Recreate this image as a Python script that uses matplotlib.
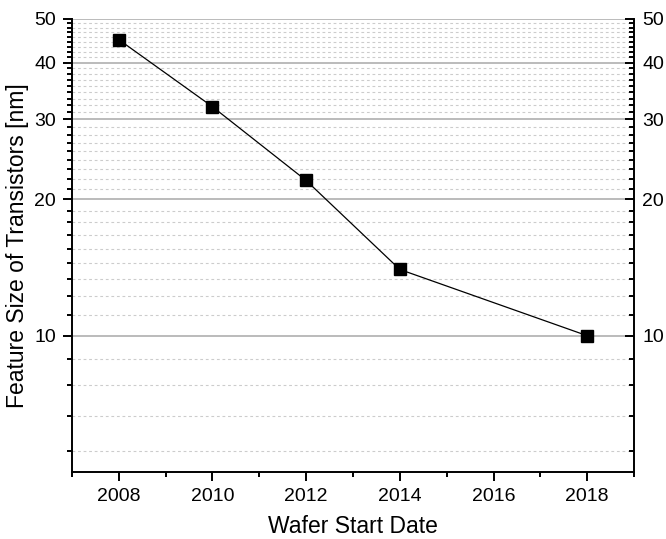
import matplotlib.pyplot as plt
import matplotlib.ticker as mticker
import numpy as np

# ── Data ─────────────────────────────────────────────────────────────────────
years = [2008, 2010, 2012, 2014, 2018]
feature_nm = [45, 32, 22, 14, 10]

x_ticks = [2008, 2010, 2012, 2014, 2016, 2018]
y_ticks = [10, 20, 30, 40, 50]

# ── Styling ──────────────────────────────────────────────────────────────────
plt.rcParams.update({
    "font.family": ["Liberation Sans", "DejaVu Sans"],
    "font.size": 14,
})

fig = plt.figure(figsize=(6.66, 5.39), dpi=100)
ax = fig.add_axes([0.108, 0.124, 0.844, 0.841])

ax.plot(years, feature_nm, color="black", lw=0.9, marker="s", ms=8.5,
        mfc="black", mec="black", zorder=4)

ax.set_xlim(2007, 2019)

# minor ticks split every 10-nm step into nine equal parts
minor_y = [m + k * 10 / 9 for m in [0] + y_ticks[:-1] for k in range(1, 9)]
minor_y = [v for v in minor_y if v > 5]


def style_log_y(a):
    a.set_yscale("log")
    a.set_ylim(5, 50)
    a.yaxis.set_major_locator(mticker.FixedLocator(y_ticks))
    a.yaxis.set_major_formatter(mticker.FixedFormatter([str(v) for v in y_ticks]))
    a.yaxis.set_minor_locator(mticker.FixedLocator(minor_y))
    a.yaxis.set_minor_formatter(mticker.NullFormatter())


style_log_y(ax)
ax.xaxis.set_major_locator(mticker.FixedLocator(x_ticks))
ax.xaxis.set_minor_locator(mticker.MultipleLocator(1))

ax.grid(axis="y", which="major", color="#a8a8a8", lw=1.1, zorder=1)
ax.grid(axis="y", which="minor", color="#cccccc", lw=0.8,
        linestyle=(0, (2.5, 2.5)), zorder=1)

ax.spines[["top", "right"]].set_visible(False)
for side in ["left", "bottom"]:
    ax.spines[side].set_linewidth(1.4)

ax.tick_params(which="both", direction="out", width=1.4, colors="black")
ax.tick_params(which="major", length=6.5, pad=5)
ax.tick_params(which="minor", length=3.5)

# right-hand copy of the y axis, ticks pointing inward
ax2 = ax.twinx()
style_log_y(ax2)
ax2.spines[["top", "left", "bottom"]].set_visible(False)
ax2.spines["right"].set_linewidth(1.4)
ax2.tick_params(which="both", direction="in", width=1.4, colors="black")
ax2.tick_params(which="major", length=6.5, pad=6)
ax2.tick_params(which="minor", length=3.5)

ax.set_xlabel("Wafer Start Date", fontsize=16.5, labelpad=7)
ax.set_ylabel("Feature Size of Transistors [nm]", fontsize=16.5, labelpad=4)

fig.savefig("out.png", dpi=100)
